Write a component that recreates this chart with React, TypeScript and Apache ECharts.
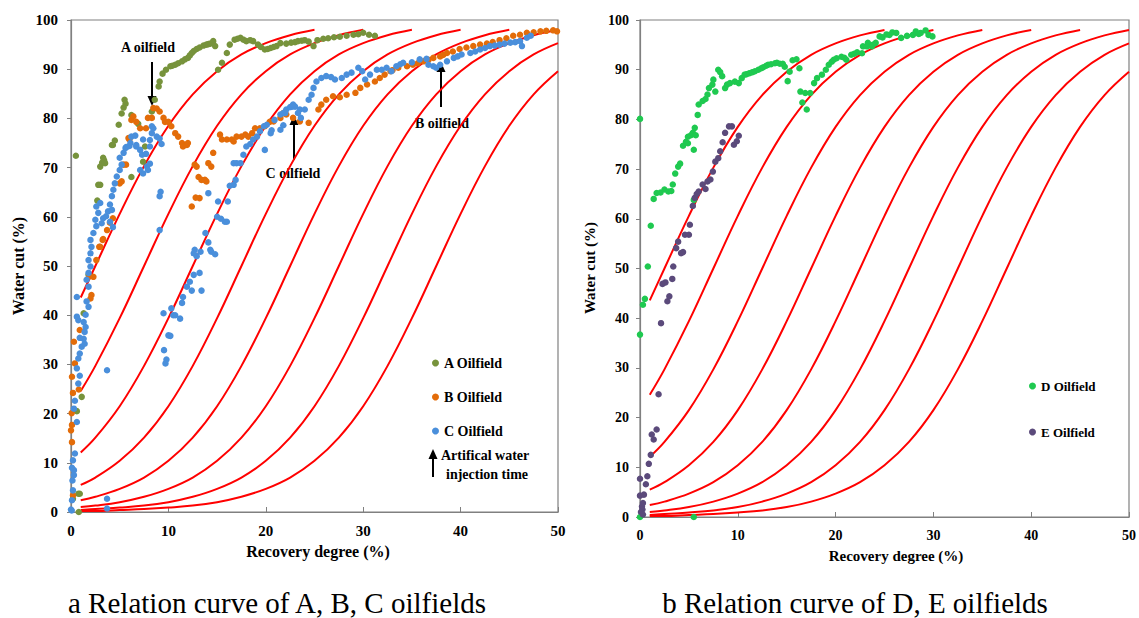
import React, { useEffect, useRef } from 'react';
import * as echarts from 'echarts';

const FONT = 'Liberation Serif';

// Reference curves (recovery degree %, water cut %)
const curve1 = [[1,43.6],[2.5,50.0],[5,60.6],[7.5,70.3],[10,78.5],[12.5,84.9],[15,89.6],[17.5,93.0],[20,95.3],[22.5,96.9],[25,98.0]];
const curve2 = [[1,24.6],[2.5,29.7],[5,39.4],[7.5,50.0],[10,60.6],[12.5,70.3],[15,78.5],[17.5,84.9],[20,89.6],[22.5,93.0],[25,95.3],[27.5,96.9],[30,98.0]];
const curve3 = [[1,12.1],[2.5,15.1],[5,21.5],[7.5,29.7],[10,39.4],[12.5,50.0],[15,60.6],[17.5,70.3],[20,78.5],[22.5,84.9],[25,89.6],[27.5,93.0],[30,95.3],[32.5,96.9],[35,98.0]];
const curve4 = [[1,5.5],[2.5,7.0],[5,10.4],[7.5,15.1],[10,21.5],[12.5,29.7],[15,39.4],[17.5,50.0],[20,60.6],[22.5,70.3],[25,78.5],[27.5,84.9],[30,89.6],[32.5,93.0],[35,95.3],[37.5,96.9],[40,98.0]];
const curve5 = [[1,2.4],[2.5,3.1],[5,4.7],[7.5,7.0],[10,10.4],[12.5,15.1],[15,21.5],[17.5,29.7],[20,39.4],[22.5,50.0],[25,60.6],[27.5,70.3],[30,78.5],[32.5,84.9],[35,89.6],[37.5,93.0],[40,95.3],[42.5,96.9],[45,98.0]];
const curve6 = [[1,1.0],[2.5,1.3],[5,2.0],[7.5,3.1],[10,4.7],[12.5,7.0],[15,10.4],[17.5,15.1],[20,21.5],[22.5,29.7],[25,39.4],[27.5,50.0],[30,60.6],[32.5,70.3],[35,78.5],[37.5,84.9],[40,89.6],[42.5,93.0],[45,95.3],[47.5,96.9],[50,98.0]];
const curve7 = [[1,0.4],[2.5,0.6],[5,0.9],[7.5,1.3],[10,2.0],[12.5,3.1],[15,4.7],[17.5,7.0],[20,10.4],[22.5,15.1],[25,21.5],[27.5,29.7],[30,39.4],[32.5,50.0],[35,60.6],[37.5,70.3],[40,78.5],[42.5,84.9],[45,89.6],[47.5,93.0],[50,95.3]];
const curve8 = [[1,0.2],[2.5,0.2],[5,0.4],[7.5,0.6],[10,0.9],[12.5,1.3],[15,2.0],[17.5,3.1],[20,4.7],[22.5,7.0],[25,10.4],[27.5,15.1],[30,21.5],[32.5,29.7],[35,39.4],[37.5,50.0],[40,60.6],[42.5,70.3],[45,78.5],[47.5,84.9],[50,89.6]];
const curves = [curve1, curve2, curve3, curve4, curve5, curve6, curve7, curve8];

const oilA = [[0.5,72.4],[0.8,0],[0.2,2.7],[0.9,3.7],[0.75,3.7],[1.1,23.4],[0.6,20.5],[1.3,40.4],[1.8,48.2],[2.7,63.3],[3.0,66.5],[2.8,66.5],[3.0,70.2],[3.2,71.0],[3.4,71.5],[3.5,70.9],[3.3,72.0],[4.2,74.6],[4.3,74.6],[4.5,75.5],[4.9,78.7],[5.2,81.0],[5.5,83.8],[5.6,83.0],[5.4,82.2],[6.2,80.7],[6.2,68.1],[6.9,78.9],[7.6,74.3],[7.4,71.2],[8.3,81.4],[8.6,83.8],[9.0,86.5],[9.1,87.5],[9.4,89.1],[9.75,89.9],[10.2,90.6],[10.4,90.7],[10.7,90.9],[11.0,91.2],[11.4,91.6],[11.7,92.0],[12.0,92.3],[12.2,92.8],[12.4,93.3],[12.6,93.7],[12.9,94.1],[13.2,94.4],[13.6,94.8],[13.9,95.0],[14.1,95.1],[14.3,95.2],[14.6,95.7],[14.8,94.7],[15.1,89.9],[15.5,91.3],[16.0,93.3],[16.3,95.0],[16.8,96.0],[17.1,96.2],[17.4,96.4],[17.7,96.0],[18.0,95.7],[18.4,95.9],[18.7,95.7],[19.2,95.0],[19.5,94.5],[19.9,94.0],[20.2,94.1],[20.5,94.3],[20.8,94.5],[21.1,94.7],[21.5,95.3],[22.1,95.2],[22.6,95.4],[23.0,95.5],[23.3,95.7],[23.7,95.8],[24.0,95.9],[24.4,95.6],[24.9,94.7],[25.3,95.9],[25.9,96.2],[26.4,96.3],[27.0,96.5],[27.6,96.6],[28.3,96.8],[29.0,97.0],[29.5,97.1],[30.0,97.4],[30.6,97.0],[31.2,96.8]];

const oilB = [[0.3,34.6],[0.4,30.2],[0.1,27.5],[0.2,24.2],[0.8,24.9],[0.07,20.1],[0.1,17.7],[0.0,16.6],[0.1,14.2],[0.2,3.4],[0.9,37],[2.1,44.1],[2.0,43.4],[1.9,47.9],[2.3,47.8],[2.6,51.2],[2.9,53.9],[3.25,55.3],[3.0,53.9],[3.3,55.5],[3.7,57.3],[4.0,58.8],[4.3,59.7],[5.0,66.8],[5.2,67.2],[5.4,70.6],[5.65,70.6],[5.9,76.0],[6.0,75.7],[6.2,79.7],[6.4,80.4],[6.7,79.3],[7.1,78.0],[7.7,78.0],[7.9,80.1],[8.3,80.1],[8.45,82.1],[8.8,82.0],[9.1,81.4],[9.5,80.1],[9.65,79.3],[10.0,79.3],[10.3,78.4],[10.7,77.0],[11.0,76.3],[11.4,75.0],[11.5,74.3],[11.9,74.6],[12.0,75.0],[12.4,62.1],[12.8,63.9],[13.2,63.8],[12.7,70.6],[12.9,70.2],[13.1,68.1],[13.4,67.5],[13.75,67.5],[13.9,67.2],[14.1,70.9],[14.4,70.2],[14.6,73.0],[15.3,76.7],[15.5,75.7],[16.0,75.7],[16.5,75.7],[16.7,75.3],[17.0,76.3],[17.5,76.3],[17.9,76.7],[18.2,76.3],[18.6,77.0],[18.9,78.0],[19.4,78.0],[19.9,78.4],[20.4,79.3],[20.8,79.4],[21.5,80.1],[21.8,81.1],[22.1,80.8],[22.8,80.1],[23.5,79.4],[24.4,79.1],[25.4,81.8],[25.7,82.8],[26.2,83.8],[26.9,84.5],[27.6,84.3],[28.3,84.8],[29.2,85.2],[29.7,86.2],[30.4,86.9],[31.2,87.5],[31.7,88.2],[32.2,88.9],[32.8,89.6],[33.0,89.8],[33.6,90.3],[34.5,90.6],[35.1,90.9],[35.6,91.2],[36.2,91.6],[36.7,91.9],[37.2,92.3],[37.9,92.6],[38.2,92.9],[38.6,93.3],[39.2,93.6],[39.9,94.1],[40.6,94.4],[41.3,94.7],[42.0,95.0],[42.7,95.2],[43.3,95.5],[44.0,95.9],[44.7,96.3],[45.4,96.8],[46.1,97.0],[46.8,97.4],[47.5,97.5],[48.2,97.7],[48.8,97.8],[49.5,97.9],[49.9,97.7]];

const oilC = [[0.07,0.3],[0.1,2.4],[0.2,4.4],[0.15,6.4],[0.3,8.5],[0.2,10.5],[0.4,11.9],[0.1,9.0],[0.3,7.5],[0.6,18.3],[0.3,21.0],[0.4,22.6],[3.7,28.8],[3.7,2.7],[3.7,0.7],[0.0,0.5],[0.75,26.1],[0.9,27.7],[0.6,29.2],[0.75,31.2],[0.9,32.2],[1.1,33.6],[1.4,34.2],[1.3,35.2],[0.9,35.4],[1.4,36.6],[1.5,37.6],[1.3,38.6],[0.75,39.0],[0.6,39.7],[1.5,40.1],[1.8,41.7],[1.6,42.8],[0.6,43.7],[1.8,45.8],[1.6,47.2],[1.8,48.6],[2.0,49.9],[1.8,51.2],[2.0,52.6],[2.1,53.9],[2.0,55.3],[2.3,56.7],[2.6,58.1],[2.5,59.4],[2.8,60.8],[3.15,58.7],[3.3,59.7],[3.6,60.1],[4.0,59.0],[3.8,61.1],[4.2,61.4],[4.3,57.9],[4.0,62.5],[2.6,62.1],[3.0,62.8],[4.2,64.2],[4.35,65.5],[4.5,66.8],[4.7,68.2],[5.0,69.5],[5.2,70.6],[5.0,72.0],[5.4,73.0],[5.6,74.0],[6.0,74.4],[6.7,74.3],[7.4,75.7],[5.7,74.2],[6.1,75.0],[6.2,76.3],[6.6,76.5],[6.7,74.6],[7.1,73.6],[7.3,72.6],[7.1,69.5],[7.4,68.8],[7.8,70.2],[7.9,69.5],[8.1,70.8],[7.7,72.8],[8.1,74.3],[8.3,77.0],[8.3,78.4],[8.45,78.0],[8.1,75.6],[8.8,76.3],[9.1,75.9],[9.3,74.8],[9.2,65.1],[9.1,64.2],[9.1,57.3],[9.5,40.4],[10.0,35.9],[10.2,35.8],[9.55,32.9],[9.8,31.0],[9.7,30.2],[10.5,40.0],[10.3,41.4],[10.7,40.0],[11.2,39.3],[11.4,42.5],[11.5,43.7],[11.9,45.8],[12.2,46.8],[12.4,45.0],[12.6,48.2],[13.2,48.6],[13.4,45.0],[12.7,53.3],[12.9,52.0],[12.6,52.6],[13.3,52.9],[13.8,56.7],[14.1,54.8],[14.4,52.9],[14.8,52.4],[14.3,53.3],[15.0,60.0],[15.4,59.6],[15.8,59.0],[15.1,63.1],[16.1,63.1],[16.3,66.3],[14.1,64.8],[16.0,59.0],[16.7,66.5],[16.9,67.5],[16.7,70.9],[17.0,70.9],[17.4,70.9],[17.7,72.6],[18.0,74.3],[18.4,74.8],[18.7,75.7],[19.1,76.3],[19.4,77.4],[19.8,78.4],[20.1,78.7],[19.9,73.6],[20.5,77.0],[20.6,77.6],[20.9,79.7],[21.5,80.8],[21.8,81.1],[22.1,81.8],[22.7,82.4],[23.0,82.4],[23.3,81.1],[21.5,77.7],[21.8,78.6],[22.0,81.1],[22.5,82.3],[22.8,82.8],[23.6,80.1],[23.5,81.8],[24.0,81.8],[24.4,83.8],[24.7,84.8],[24.9,86.2],[25.2,87.5],[25.7,88.2],[26.2,88.6],[26.7,88.4],[27.1,87.9],[27.8,88.2],[28.3,88.9],[28.8,89.3],[29.5,90.3],[29.9,89.6],[30.2,87.9],[30.7,88.9],[31.4,89.9],[31.9,89.9],[32.4,90.3],[32.9,89.6],[33.4,90.6],[33.8,91.0],[34.1,91.3],[35.0,91.4],[35.8,92.0],[36.5,92.1],[36.7,90.9],[37.2,90.6],[37.5,90.3],[37.9,90.9],[38.6,91.6],[39.3,92.3],[39.7,92.6],[40.1,93.0],[41.0,93.3],[41.5,93.6],[42.0,94.0],[42.5,94.3],[43.0,94.7],[43.5,94.8],[44.0,95.0],[44.5,95.2],[45.1,95.4],[45.6,95.5],[46.1,95.7],[46.3,94.7],[46.8,96.4],[47.2,96.8]];

const oilD = [[0,80.1],[0.8,50.4],[1.1,58.6],[1.4,64.0],[1.7,65.2],[2.1,65.3],[2.5,65.9],[2.9,65.5],[3.2,65.6],[3.35,66.9],[3.6,69.1],[3.9,70.5],[4.1,71.1],[4.4,74.7],[4.7,75.5],[4.9,76.5],[4.9,75.2],[5.2,76.8],[5.4,77.3],[5.6,78.3],[5.5,73.9],[5.7,76.8],[5.9,80.9],[6.0,83.0],[6.4,83.7],[6.7,84.1],[6.9,85.0],[7.05,86.3],[7.4,87.0],[7.5,88.0],[7.7,85.6],[8.0,90.0],[8.2,89.5],[8.4,88.7],[8.7,86.3],[8.9,87.0],[9.2,87.3],[9.7,87.6],[10.1,87.3],[10.4,88.3],[10.7,89.0],[10.9,89.1],[11.2,89.3],[11.5,89.5],[11.75,89.7],[12.1,90.0],[12.4,90.3],[12.6,90.5],[12.9,90.8],[13.1,91.0],[13.4,91.1],[13.8,91.3],[14.0,91.4],[14.3,91.2],[14.6,91.2],[14.8,90.6],[15.1,87.7],[15.3,89.6],[15.6,91.9],[16.0,92.1],[16.3,90.3],[16.6,83.4],[17.05,82.0],[16.4,85.6],[16.9,85.3],[17.4,85.3],[17.8,87.3],[18.1,88.3],[18.6,89.0],[19.0,90.0],[19.3,91.0],[19.6,91.6],[19.8,92.0],[20.1,92.3],[20.6,92.6],[20.9,92.4],[21.1,92.0],[21.6,93.0],[21.9,93.2],[22.2,93.5],[22.7,93.3],[22.8,94.7],[23.2,94.7],[23.3,95.4],[23.7,94.7],[23.8,95.0],[24.1,95.4],[24.5,96.7],[24.8,96.5],[25.2,97.1],[25.5,97.0],[25.8,97.5],[26.2,97.4],[26.7,96.4],[27.3,96.8],[27.9,97.0],[28.2,97.7],[28.5,97.2],[28.7,97.4],[29.2,97.9],[29.5,97.0],[29.9,96.7],[0,36.7],[0.3,42.7],[0.5,43.9],[0,0],[5.5,0],[5.5,63.8]];

const oilE = [[0,7.7],[0,4.3],[0.2,2.1],[0.25,1.5],[0.3,2.8],[0.1,1.0],[0.3,0.5],[0.4,4.5],[0.6,6.6],[0.75,8.2],[0.9,10.7],[1.1,12.5],[1.4,15.6],[1.2,16.6],[1.7,17.6],[1.9,24.7],[2.15,39.0],[2.3,46.9],[2.6,47.2],[2.8,43.4],[3.0,44.4],[3.3,47.9],[3.4,50.4],[3.7,54.1],[3.9,55.4],[4.2,53.1],[4.4,53.3],[4.6,56.8],[5.0,56.8],[5.1,58.8],[5.4,62.6],[5.6,64.2],[5.8,65.0],[6.0,65.5],[6.4,66.9],[6.7,66.0],[6.9,67.5],[7.2,67.9],[7.45,69.5],[7.7,71.5],[8.0,72.2],[8.2,73.6],[8.45,75.4],[8.7,77.3],[9.1,78.6],[9.4,78.6],[9.6,74.9],[9.9,75.6],[10.1,76.7]];

const xTicks = { min: 0, max: 50, interval: 10 };
const yTicks = { min: 0, max: 100, interval: 10 };

const leftLegend = ['A Oilfield', 'B Oilfield', 'C Oilfield'];
const rightLegend = ['D Oilfield', 'E Oilfield'];

function arrow(x: number, tipY: number, tailY: number) {
  const dir = tailY > tipY ? 1 : -1;
  const base = tipY + dir * 10;
  return [
    { type: 'line', shape: { x1: x, y1: tailY, x2: x, y2: base }, style: { stroke: '#000', lineWidth: 2 } },
    { type: 'polygon', shape: { points: [[x, tipY], [x - 4.5, base], [x + 4.5, base]] }, style: { fill: '#000' } },
  ];
}

function txt(x: number, y: number, text: string, size: number, bold = true, rot = 0, align = 'center') {
  return {
    type: 'text', x, y, rotation: rot,
    style: { text, fill: '#000', fontSize: size, fontWeight: bold ? 'bold' : 'normal', fontFamily: FONT, align, verticalAlign: 'middle' },
  };
}

export default function App() {
  const ref = useRef<HTMLDivElement>(null);
  useEffect(() => {
    document.body.style.margin = '0';
    const chart = echarts.init(ref.current!, null, { renderer: 'svg' });
    const axisColor = '#808080';
    const mkX = (gi: number, fs: number) => ({
      gridIndex: gi, type: 'value', ...xTicks,
      axisLine: { show: true, lineStyle: { color: axisColor, width: 1.2 } },
      axisTick: { show: true, inside: true, length: 5, lineStyle: { color: axisColor } },
      axisLabel: { color: '#000', fontFamily: FONT, fontWeight: 'bold', fontSize: fs, margin: 11 },
      splitLine: { show: false },
    });
    const mkY = (gi: number, fs: number, margin: number) => ({
      gridIndex: gi, type: 'value', ...yTicks,
      axisLine: { show: true, lineStyle: { color: axisColor, width: 1.2 } },
      axisTick: { show: true, inside: false, length: 4, lineStyle: { color: axisColor } },
      axisLabel: { color: '#000', fontFamily: FONT, fontWeight: 'bold', fontSize: fs, margin },
      splitLine: { show: false },
    });
    const curveSeries = (gi: number) => curves.map((c, i) => ({
      type: 'line', name: 'curve' + (i + 1), xAxisIndex: gi, yAxisIndex: gi, data: c,
      smooth: 0.4, showSymbol: false, symbol: 'none',
      lineStyle: { color: '#ff0000', width: 2 }, silent: true, z: 2,
    }));
    const scatter = (name: string, data: number[][], gi: number, color: string) => ({
      type: 'scatter', name, xAxisIndex: gi, yAxisIndex: gi, data, symbolSize: 6.5,
      itemStyle: { color, opacity: 1 }, z: 3,
    });
    const legendText = (fs: number) => ({ color: '#000', fontFamily: FONT, fontWeight: 'bold', fontSize: fs, lineHeight: 16 });
    chart.setOption({
      animation: false,
      textStyle: { fontFamily: FONT },
      grid: [
        { left: 71, top: 20, width: 487, height: 492, show: true, borderColor: axisColor, borderWidth: 1.2, backgroundColor: 'transparent' },
        { left: 640, top: 20, width: 496, height: 497, show: true, borderColor: axisColor, borderWidth: 1.2, backgroundColor: 'transparent' },
      ],
      xAxis: [mkX(0, 15), mkX(1, 14)],
      yAxis: [mkY(0, 15, 13), mkY(1, 14, 11)],
      legend: [
        { data: leftLegend, orient: 'vertical', left: 427, top: 350, itemWidth: 7, itemHeight: 7, itemGap: 18, icon: 'circle', selectedMode: false, textStyle: legendText(14) },
        { data: rightLegend, orient: 'vertical', left: 1024, top: 373, itemWidth: 7, itemHeight: 7, itemGap: 30, icon: 'circle', selectedMode: false, textStyle: legendText(13) },
      ],
      series: [
        ...curveSeries(0),
        ...curveSeries(1),
        scatter('A Oilfield', oilA, 0, '#77933C'),
        scatter('B Oilfield', oilB, 0, '#E36C09'),
        scatter('C Oilfield', oilC, 0, '#4A8FDB'),
        scatter('D Oilfield', oilD, 1, '#1FC950'),
        scatter('E Oilfield', oilE, 1, '#5B4A7B'),
      ],
      graphic: [
        txt(18, 266, 'Water cut (%)', 16, true, Math.PI / 2),
        txt(590, 268, 'Water cut (%)', 15, true, Math.PI / 2),
        txt(318, 551, 'Recovery degree (%)', 16),
        txt(896, 556, 'Recovery degree (%)', 15),
        txt(277, 603, 'a Relation curve of A, B, C oilfields', 29, false),
        txt(855, 603, 'b Relation curve of D, E oilfields', 29, false),
        txt(148, 47, 'A oilfield', 14),
        ...arrow(152, 106, 62),
        txt(293, 173, 'C oilfield', 14),
        ...arrow(294, 115, 160),
        txt(442, 123, 'B oilfield', 14),
        ...arrow(441, 62, 107),
        ...arrow(433, 449, 477),
        txt(441, 455, 'Artifical water', 14, true, 0, 'left'),
        txt(446, 474, 'injection time', 14, true, 0, 'left'),
      ],
    });
    return () => chart.dispose();
  }, []);
  return <div ref={ref} style={{ width: 1139, height: 618 }} />;
}
